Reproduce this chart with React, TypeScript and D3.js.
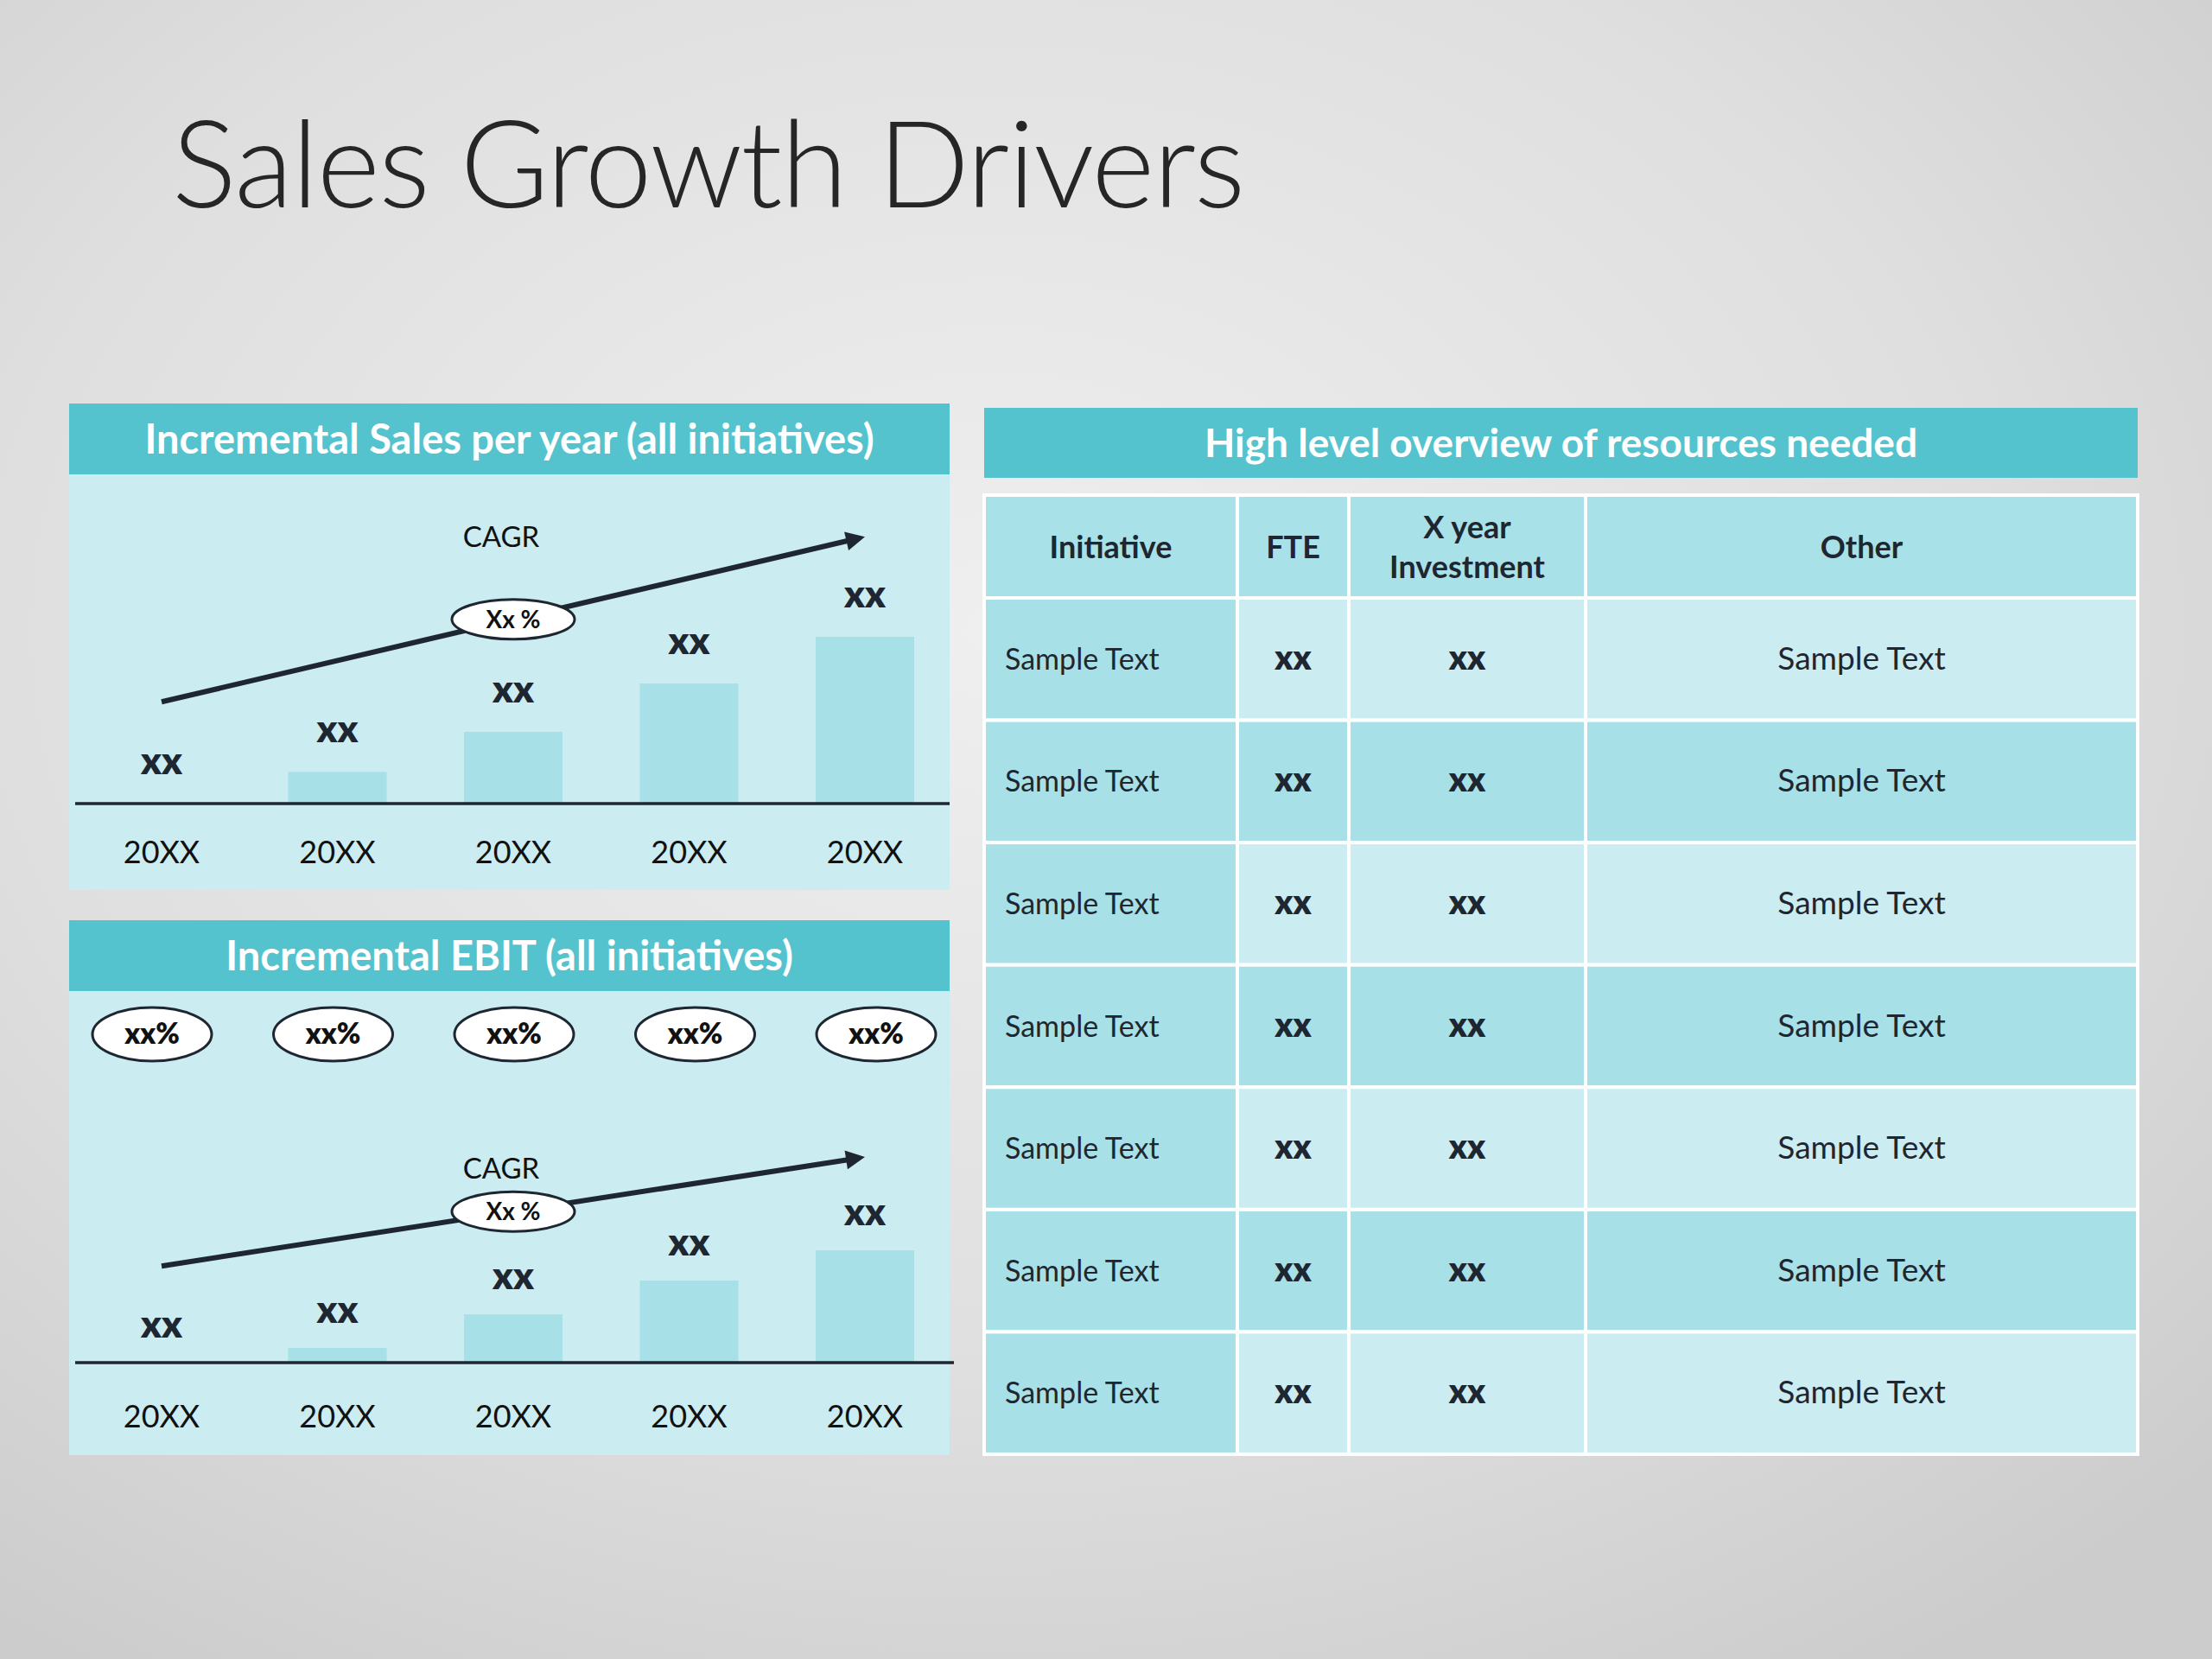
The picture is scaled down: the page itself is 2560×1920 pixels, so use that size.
import * as d3 from "d3";
import React from "react";

// chart data
const years = ["20XX", "20XX", "20XX", "20XX", "20XX"];
const salesValues = [0, 19, 43, 72, 100];
const ebitValues = [0, 13, 43, 73, 100];
const valueLabels = ["xx", "xx", "xx", "xx", "xx"];
const ebitMargins = ["xx%", "xx%", "xx%", "xx%", "xx%"];
const cagrText = "Xx %";
// start / end of the CAGR arrow, in the same units as the bars
const salesCagr = [61, 160];
const ebitCagr = [86, 183];

// table data
const tableColumns = ["Initiative", "FTE", "X year\nInvestment", "Other"];
const initiatives = ["Sample Text", "Sample Text", "Sample Text", "Sample Text", "Sample Text", "Sample Text", "Sample Text"];
const fteValues = ["xx", "xx", "xx", "xx", "xx", "xx", "xx"];
const investmentValues = ["xx", "xx", "xx", "xx", "xx", "xx", "xx"];
const otherValues = ["Sample Text", "Sample Text", "Sample Text", "Sample Text", "Sample Text", "Sample Text", "Sample Text"];

const FONT = "Lato, 'Open Sans', sans-serif";
const TEAL = "#55c3ce";
const LIGHT = "#cbecf0";
const MID = "#a7e0e7";
const INK = "#1e2731";

type PanelProps = {
  x: number;
  y: number;
  width: number;
  headerH: number;
  bodyH: number;
  title: string;
  values: number[];
  cagr: number[];
  axisY: number;
  axisRight: number;
  maxY: number;
  labelGap: number;
  yearDy: number;
  cagrDy: number;
  margins?: string[];
};

const Arrow: React.FC<{ x1: number; y1: number; x2: number; y2: number }> = ({ x1, y1, x2, y2 }) => {
  const len = Math.hypot(x2 - x1, y2 - y1);
  const ux = (x2 - x1) / len;
  const uy = (y2 - y1) / len;
  const head = 22;
  const half = 11;
  const bx = x2 - ux * head;
  const by = y2 - uy * head;
  const pts = [
    [x2, y2],
    [bx - uy * half, by + ux * half],
    [bx + uy * half, by - ux * half],
  ];
  return (
    <g>
      <line x1={x1} y1={y1} x2={bx + ux * 2} y2={by + uy * 2} stroke={INK} strokeWidth={6} />
      <polygon points={pts.map((p) => p.join(",")).join(" ")} fill={INK} />
    </g>
  );
};

const BarPanel: React.FC<PanelProps> = (p) => {
  const x = d3.scalePoint<number>().domain(d3.range(years.length)).range([187, 1001]);
  const y = d3.scaleLinear().domain([0, 100]).range([p.axisY, p.maxY]);
  const barW = 114;
  const ovalX = d3.scalePoint<number>().domain(d3.range(years.length)).range([176, 1014]);

  const ax1 = x(0)!;
  const ax2 = x(years.length - 1)!;
  const ay1 = y(p.cagr[0]);
  const ay2 = y(p.cagr[1]);
  const mx = (ax1 + ax2) / 2;
  const my = (ay1 + ay2) / 2;

  return (
    <g>
      <rect x={p.x} y={p.y} width={p.width} height={p.headerH} fill={TEAL} />
      <rect x={p.x} y={p.y + p.headerH} width={p.width} height={p.bodyH} fill={LIGHT} />
      <text
        x={p.x + p.width / 2}
        y={p.y + p.headerH / 2 + 17}
        textAnchor="middle"
        fontFamily={FONT}
        fontWeight={700}
        fontSize={47}
        fill="#ffffff"
      >
        {p.title}
      </text>

      {p.margins &&
        p.margins.map((m, i) => (
          <g key={"m" + i}>
            <ellipse cx={ovalX(i)} cy={p.y + p.headerH + 50} rx={69} ry={31} fill="#ffffff" stroke={INK} strokeWidth={3} />
            <text
              x={ovalX(i)}
              y={p.y + p.headerH + 50 + 11}
              textAnchor="middle"
              fontFamily={FONT}
              fontWeight={800}
              fontSize={33}
              fill="#111"
            >
              {m}
            </text>
          </g>
        ))}

      {p.values.map((v, i) => (
        <rect key={"b" + i} x={x(i)! - barW / 2} y={y(v)} width={barW} height={p.axisY - y(v)} fill={MID} />
      ))}

      <line x1={87} x2={p.axisRight} y1={p.axisY} y2={p.axisY} stroke={INK} strokeWidth={3.5} />

      {p.values.map((v, i) => (
        <text
          key={"v" + i}
          x={x(i)}
          y={y(v) - p.labelGap}
          textAnchor="middle"
          fontFamily={FONT}
          fontWeight={800}
          fontSize={44}
          fill={INK}
        >
          {valueLabels[i]}
        </text>
      ))}

      {years.map((yr, i) => (
        <text
          key={"y" + i}
          x={x(i)}
          y={p.axisY + p.yearDy}
          textAnchor="middle"
          fontFamily={FONT}
          fontSize={36}
          fill="#111"
        >
          {yr}
        </text>
      ))}

      <Arrow x1={ax1} y1={ay1} x2={ax2} y2={ay2} />
      <ellipse cx={mx} cy={my} rx={71} ry={23} fill="#ffffff" stroke={INK} strokeWidth={3} />
      <text x={mx} y={my + 10} textAnchor="middle" fontFamily={FONT} fontWeight={700} fontSize={28} fill="#111">
        {cagrText}
      </text>
      <text x={mx - 14} y={my + p.cagrDy} textAnchor="middle" fontFamily={FONT} fontSize={33} fill="#111">
        CAGR
      </text>
    </g>
  );
};

const ResourceTable: React.FC = () => {
  const left = 1139;
  const right = 2474;
  const colEdges = [left, 1432, 1561, 1835, right];
  const headTop = 573;
  const headBottom = 692;
  const rowY = d3.scaleBand<number>().domain(d3.range(initiatives.length)).range([headBottom, 1683]);
  const cols = [initiatives, fteValues, investmentValues, otherValues];
  const colSize = [34, 39, 39, 37];

  const cellFill = (r: number, c: number) => (c === 0 || r % 2 === 1 ? MID : LIGHT);

  return (
    <g>
      <rect x={left} y={472} width={right - left} height={81} fill={TEAL} />
      <text
        x={(left + right) / 2}
        y={529}
        textAnchor="middle"
        fontFamily={FONT}
        fontWeight={700}
        fontSize={46}
        fill="#ffffff"
      >
        High level overview of resources needed
      </text>

      {tableColumns.map((c, ci) => {
        const cx = (colEdges[ci] + colEdges[ci + 1]) / 2;
        const lines = c.split("\n");
        return (
          <g key={"h" + ci}>
            <rect
              x={colEdges[ci]}
              y={headTop}
              width={colEdges[ci + 1] - colEdges[ci]}
              height={headBottom - headTop}
              fill="#a9e1e8"
              stroke="#ffffff"
              strokeWidth={4}
            />
            {lines.map((ln, li) => (
              <text
                key={li}
                x={cx}
                y={lines.length === 1 ? 646 : 623 + li * 46}
                textAnchor="middle"
                fontFamily={FONT}
                fontWeight={700}
                fontSize={36}
                fill={INK}
              >
                {ln}
              </text>
            ))}
          </g>
        );
      })}

      {initiatives.map((_, r) => (
        <g key={"r" + r}>
          {cols.map((col, ci) => {
            const y0 = rowY(r)!;
            const h = rowY.bandwidth();
            const bold = ci === 1 || ci === 2;
            return (
              <g key={ci}>
                <rect
                  x={colEdges[ci]}
                  y={y0}
                  width={colEdges[ci + 1] - colEdges[ci]}
                  height={h}
                  fill={cellFill(r, ci)}
                  stroke="#ffffff"
                  strokeWidth={4}
                />
                <text
                  x={ci === 0 ? colEdges[0] + 24 : (colEdges[ci] + colEdges[ci + 1]) / 2}
                  y={y0 + h / 2 + 12}
                  textAnchor={ci === 0 ? "start" : "middle"}
                  fontFamily={FONT}
                  fontWeight={bold ? 800 : 400}
                  fontSize={colSize[ci]}
                  fill={INK}
                >
                  {col[r]}
                </text>
              </g>
            );
          })}
        </g>
      ))}
    </g>
  );
};

export default function App() {
  return (
    <svg width={2560} height={1920} style={{ position: "absolute", left: 0, top: 0 }}>
      <defs>
        <radialGradient id="bg" cx="45%" cy="38%" r="75%">
          <stop offset="0%" stopColor="#efefef" />
          <stop offset="60%" stopColor="#e0dfe0" />
          <stop offset="100%" stopColor="#cdcccd" />
        </radialGradient>
      </defs>
      <rect width={2560} height={1920} fill="url(#bg)" />

      <text x={199} y={240} fontFamily={FONT} fontWeight={300} fontSize={140} letterSpacing={-1.6} fill="#262626">
        Sales Growth Drivers
      </text>

      <BarPanel
        x={80}
        y={467}
        width={1019}
        headerH={82}
        bodyH={481}
        title="Incremental Sales per year (all initiatives)"
        values={salesValues}
        cagr={salesCagr}
        axisY={930}
        axisRight={1099}
        maxY={737}
        labelGap={34}
        yearDy={69}
        cagrDy={-84}
      />
      <BarPanel
        x={80}
        y={1065}
        width={1019}
        headerH={82}
        bodyH={537}
        title="Incremental EBIT (all initiatives)"
        values={ebitValues}
        cagr={ebitCagr}
        axisY={1577}
        axisRight={1104}
        maxY={1447}
        labelGap={29}
        yearDy={75}
        cagrDy={-38}
        margins={ebitMargins}
      />

      <ResourceTable />
    </svg>
  );
}
